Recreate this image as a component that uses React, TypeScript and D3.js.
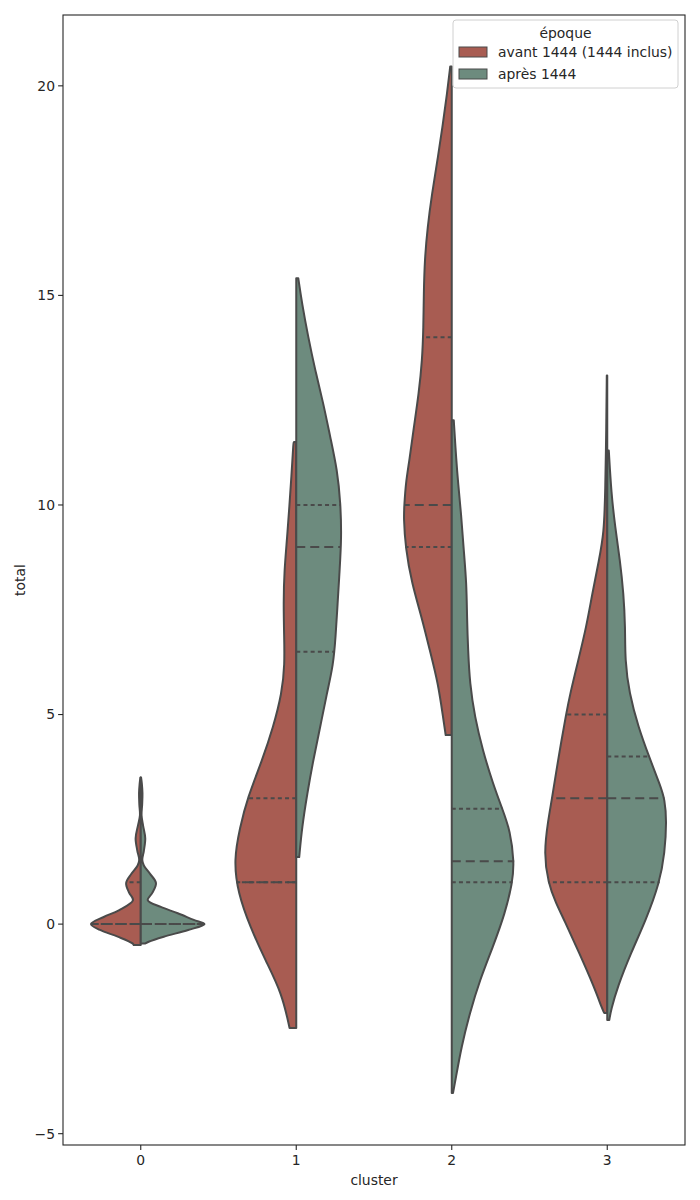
import React from "react";
import * as d3 from "d3";

const categories = ["0", "1", "2", "3"];
const seriesNames = ["avant 1444 (1444 inclus)", "après 1444"];
const seriesColors = ["#a85c52", "#6d8b7e"];
const yTicks = [-5, 0, 5, 10, 15, 20];

// density profiles: [value, half-width in category units]
const avantProfiles: [number, number][][] = [
  [[-0.5, 0.045], [-0.46, 0.053], [-0.3, 0.148], [-0.14, 0.262], [0, 0.32], [0.17, 0.238], [0.33, 0.141], [0.57, 0.05], [0.75, 0.075], [0.98, 0.094], [1.2, 0.06], [1.4, 0.02], [1.53, 0.01], [1.75, 0.022], [2.05, 0.033], [2.35, 0.018], [2.6, 0.005], [2.85, 0.009], [3.12, 0.011], [3.35, 0.007], [3.5, 0.002]],
  [[-2.48, 0.043], [-1.65, 0.092], [-0.86, 0.199], [-0.07, 0.296], [0.74, 0.375], [1.53, 0.402], [2.31, 0.362], [3.0, 0.315], [3.91, 0.219], [4.7, 0.148], [5.51, 0.092], [6.2, 0.074], [6.9, 0.078], [7.66, 0.082], [8.44, 0.077], [9.23, 0.058], [10.83, 0.028], [11.47, 0.019], [11.5, 0.015]],
  [[4.51, 0.039], [4.94, 0.056], [5.75, 0.088], [6.53, 0.141], [7.32, 0.193], [8.13, 0.257], [8.99, 0.298], [9.71, 0.309], [9.99, 0.305], [10.52, 0.296], [11.07, 0.272], [11.85, 0.244], [12.66, 0.212], [13.45, 0.19], [14.24, 0.182], [15.05, 0.18], [15.84, 0.174], [16.62, 0.156], [17.43, 0.127], [18.22, 0.092], [19.01, 0.06], [19.82, 0.03], [20.46, 0.01]],
  [[-2.12, 0.019], [-2.05, 0.03], [-1.5, 0.084], [-0.69, 0.18], [0.1, 0.277], [0.5, 0.33], [0.98, 0.38], [1.69, 0.408], [2.48, 0.38], [2.98, 0.356], [3.6, 0.33], [4.39, 0.294], [4.98, 0.266], [5.51, 0.238], [6.3, 0.186], [7.08, 0.135], [7.89, 0.096], [8.68, 0.053], [9.33, 0.021], [10.28, 0.013], [11.85, 0.006], [13.09, 0.003]],
];

const apresProfiles: [number, number][][] = [
  [[-0.46, 0.03], [-0.42, 0.051], [-0.3, 0.148], [-0.14, 0.305], [0, 0.41], [0.1, 0.341], [0.26, 0.238], [0.41, 0.129], [0.57, 0.045], [0.75, 0.075], [0.98, 0.098], [1.2, 0.06], [1.4, 0.02], [1.53, 0.01], [1.75, 0.02], [2.05, 0.029], [2.35, 0.015], [2.6, 0.005], [2.85, 0.009], [3.12, 0.011], [3.35, 0.007], [3.5, 0.002]],
  [[1.6, 0.019], [2.31, 0.037], [3.12, 0.071], [3.91, 0.109], [4.7, 0.154], [5.51, 0.197], [6.18, 0.238], [6.84, 0.253], [7.66, 0.266], [8.44, 0.279], [9.23, 0.291], [10.04, 0.285], [10.83, 0.264], [11.61, 0.219], [12.43, 0.174], [13.21, 0.122], [14.0, 0.077], [14.81, 0.037], [15.41, 0.013]],
  [[-4.03, 0.008], [-3.72, 0.024], [-2.93, 0.062], [-2.12, 0.116], [-1.34, 0.18], [-0.55, 0.264], [0.26, 0.343], [0.98, 0.39], [1.48, 0.402], [2.24, 0.375], [2.72, 0.328], [3.36, 0.264], [4.15, 0.199], [4.94, 0.148], [5.75, 0.116], [6.53, 0.105], [7.32, 0.098], [8.13, 0.095], [8.92, 0.077], [9.71, 0.062], [10.52, 0.041], [11.07, 0.029], [12.02, 0.013]],
  [[-2.29, 0.013], [-2.05, 0.024], [-1.5, 0.066], [-0.69, 0.152], [0.1, 0.249], [0.98, 0.336], [1.69, 0.37], [2.48, 0.382], [2.98, 0.369], [3.27, 0.345], [3.98, 0.27], [4.7, 0.2], [5.51, 0.141], [6.3, 0.114], [7.08, 0.116], [7.89, 0.105], [8.68, 0.082], [9.47, 0.051], [10.28, 0.026], [11.3, 0.01]],
];

// quartiles [q1, median, q3]
const avantQuartiles = [[0, 0, 1], [1, 1, 3], [9, 10, 14], [1, 3, 5]];
const apresQuartiles = [[0, 0, 0], [6.5, 9, 10], [1, 1.5, 2.75], [1, 3, 4]];

const W = 700;
const H = 1200;
const left = 63, right = 685, top = 15, bottom = 1145;
const lineColor = "#4a4a4a";
const font = "DejaVu Sans, sans-serif";
const fs = 13.9;

export default function App() {
  const x = d3.scaleLinear().domain([-0.5, 3.5]).range([left, right]);
  const y = d3.scaleLinear().domain([-5.27, 21.69]).range([bottom, top]);
  const px = (w: number) => x(w) - x(0);

  const halves: JSX.Element[] = [];
  const quartileLines: JSX.Element[] = [];

  [avantProfiles, apresProfiles].forEach((profiles, si) => {
    const sign = si === 0 ? -1 : 1;
    const quarts = si === 0 ? avantQuartiles : apresQuartiles;
    profiles.forEach((prof, ci) => {
      const c = x(ci);
      const edge = d3
        .line<[number, number]>()
        .x((d) => c + sign * px(d[1]))
        .y((d) => y(d[0]))
        .curve(ci === 0 ? d3.curveCatmullRom.alpha(0.5) : d3.curveBasis)(prof) as string;
      const v0 = prof[0][0];
      const vn = prof[prof.length - 1][0];
      const d = `M${c},${y(v0)}L${edge.slice(1)}L${c},${y(vn)}Z`;
      halves.push(
        <path key={`h${si}-${ci}`} d={d} fill={seriesColors[si]} stroke={lineColor} strokeWidth={2} strokeLinejoin="round" />
      );
      const interp = d3
        .scaleLinear()
        .domain(prof.map((p) => p[0]))
        .range(prof.map((p) => p[1]))
        .clamp(true);
      quarts[ci].forEach((q, qi) => {
        const w = px(interp(q));
        quartileLines.push(
          <line
            key={`q${si}-${ci}-${qi}`}
            x1={c}
            x2={c + sign * w}
            y1={y(q)}
            y2={y(q)}
            stroke={lineColor}
            strokeWidth={2}
            strokeDasharray={qi === 1 ? "9,5" : "4,3.2"}
          />
        );
      });
    });
  });

  return (
    <svg width={W} height={H} style={{ position: "absolute", left: 0, top: 0, background: "#fff" }} fontFamily={font}>
      <rect x={0} y={0} width={W} height={H} fill="#fff" />
      {halves}
      {quartileLines}
      <rect x={left} y={top} width={right - left} height={bottom - top} fill="none" stroke="#262626" strokeWidth={1.1} />
      {categories.map((cat, i) => (
        <g key={`xt${i}`}>
          <line x1={x(i)} x2={x(i)} y1={bottom} y2={bottom + 4.9} stroke="#262626" strokeWidth={1.1} />
          <text x={x(i)} y={bottom + 20} fontSize={fs} textAnchor="middle" fill="#262626">{cat}</text>
        </g>
      ))}
      {yTicks.map((t) => (
        <g key={`yt${t}`}>
          <line x1={left - 4.9} x2={left} y1={y(t)} y2={y(t)} stroke="#262626" strokeWidth={1.1} />
          <text x={left - 8} y={y(t)} dy="0.35em" fontSize={fs} textAnchor="end" fill="#262626">
            {t < 0 ? `\u2212${Math.abs(t)}` : `${t}`}
          </text>
        </g>
      ))}
      <text x={(left + right) / 2} y={1185} fontSize={fs} textAnchor="middle" fill="#262626">cluster</text>
      <text transform={`translate(25,${(top + bottom) / 2}) rotate(-90)`} fontSize={fs} textAnchor="middle" fill="#262626">total</text>
      <g>
        <rect x={453} y={20} width={225} height={68} rx={3} fill="#fff" fillOpacity={0.8} stroke="#d0d0d0" strokeWidth={1} />
        <text x={565.5} y={38} fontSize={fs} textAnchor="middle" fill="#262626">époque</text>
        {seriesNames.map((name, i) => (
          <g key={`lg${i}`}>
            <rect x={459} y={47 + i * 22} width={28} height={10} fill={seriesColors[i]} stroke={lineColor} strokeWidth={1} />
            <text x={498} y={57 + i * 22} fontSize={fs} fill="#262626">{name}</text>
          </g>
        ))}
      </g>
    </svg>
  );
}
